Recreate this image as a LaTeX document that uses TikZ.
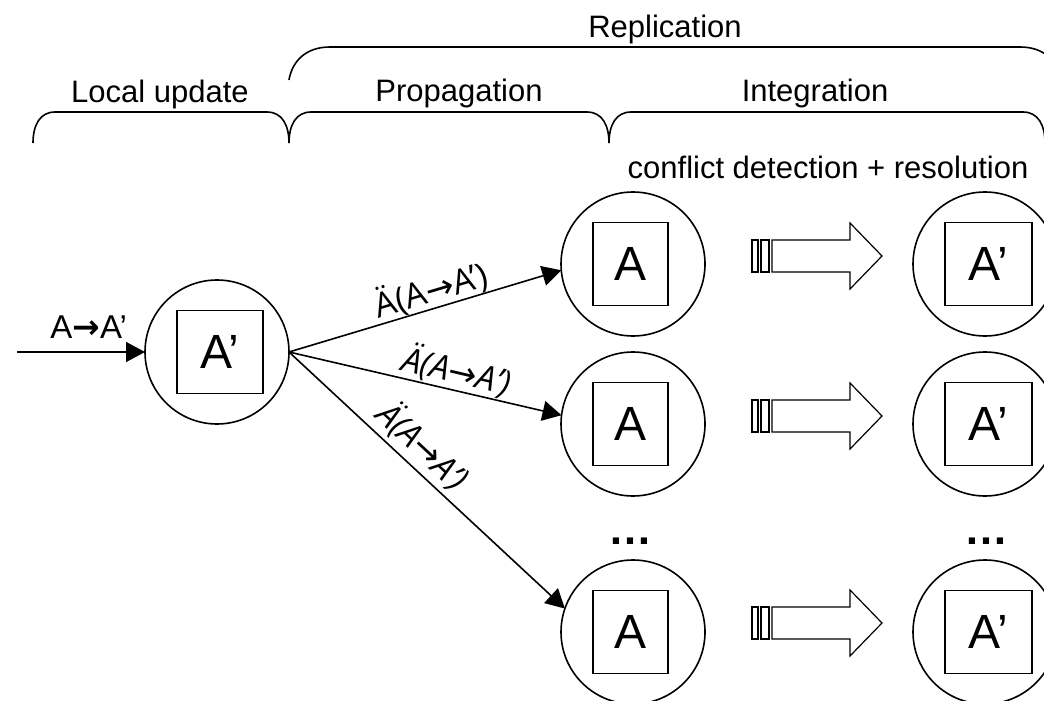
\documentclass[tikz,border=0pt]{standalone}
\usepackage{fontspec}
\setmainfont{Liberation Sans}
\newfontfamily\lblfont{Open Sans}
\newfontfamily\arrfont{DejaVu Sans}
\usetikzlibrary{arrows.meta}
\tikzset{
  ln/.style={line width=1.6pt, black},
  brace/.style={line width=1.6pt, line join=round},
  head/.style={anchor=base, font=\fontsize{31}{36}\selectfont, inner sep=0pt},
  site/.style={circle, draw, line width=1.6pt, minimum size=144pt, inner sep=0pt, outer sep=0pt},
  obj/.style={rectangle, draw, line width=1.4pt, minimum height=83pt, inner sep=0pt, outer sep=0pt, font=\fontsize{48}{56}\selectfont},
  edge/.style={ln, -{Triangle[length=19pt,width=20pt]}},
  elbl/.style={font=\lblfont\fontsize{34}{38}\selectfont, inner sep=0pt},
  dots/.style={anchor=base, font=\bfseries\fontsize{44}{50}\selectfont, inner sep=0pt},
  blockarrow/.pic={
    \draw[line width=1.2pt, line join=miter] (-48,-16) rectangle (-42,16);
    \draw[line width=1.2pt, line join=miter] (-39,-16) rectangle (-31,16);
    \draw[line width=1.2pt, line join=miter] (-28,16) -- (50,16) -- (50,33) -- (82,0) -- (50,-33) -- (50,-16) -- (-28,-16) -- cycle;
  }
}
\begin{document}
\begin{tikzpicture}[x=1pt,y=1pt]
\useasboundingbox (0,0) rectangle (1044,-701);
% braces
\draw[brace] (33,-143) .. controls (33,-125) and (40,-112) .. (55,-112) -- (267,-112) .. controls (282,-112) and (289,-125) .. (289,-143);
\draw[brace] (289,-143) .. controls (289,-125) and (296,-112) .. (311,-112) -- (587,-112) .. controls (602,-112) and (609,-125) .. (609,-143);
\draw[brace] (609,-143) .. controls (609,-125) and (616,-112) .. (631,-112) -- (1023,-112) .. controls (1038,-112) and (1045,-125) .. (1045,-143);
\draw[brace] (289,-80) .. controls (292,-62) and (305,-47) .. (330,-47) -- (1020,-47) .. controls (1045,-47) and (1058,-62) .. (1061,-80);
% headings
\node[head] (hrep) at (665,-38) {Replication};
\node[head] (hloc) at (160,-102) {Local update};
\node[head] (hprop) at (459,-101) {Propagation};
\node[head] (hint) at (815,-101) {Integration};
\node[head] (hconf) at (828,-178) {conflict detection + resolution};
% source
\node[site] (src) at (217,-352) {};
\node[obj, minimum width=86pt] (srcobj) at (220,-352) {A’};
\coordinate (in) at (17,-352);
\draw[edge] (in) -- node[above, pos=0.56, inner sep=0pt, yshift=13pt, font=\fontsize{33}{37}\selectfont] (inlbl) {A{\arrfont\bfseries →}A’} (src.west);
% targets column A
\node[site] (t1) at (633,-264) {};
\node[obj, minimum width=75pt] (t1obj) at (630.5,-264) {A};
\node[site] (t2) at (633,-424) {};
\node[obj, minimum width=75pt] (t2obj) at (630.5,-424) {A};
\node[site] (t3) at (633,-632) {};
\node[obj, minimum width=75pt] (t3obj) at (630.5,-632) {A};
% integrated column
\node[site] (r1) at (985,-264) {};
\node[obj, minimum width=87pt] (r1obj) at (988.5,-264) {A’};
\node[site] (r2) at (985,-424) {};
\node[obj, minimum width=87pt] (r2obj) at (988.5,-424) {A’};
\node[site] (r3) at (985,-632) {};
\node[obj, minimum width=87pt] (r3obj) at (988.5,-632) {A’};
% dots
\node[dots] (d1) at (630,-544) {…};
\node[dots] (d2) at (986,-544) {…};
% propagation edges
\draw[edge] (src.east) -- node[elbl, sloped, above, pos=0.54] (l1) {Ä(A{\arrfont →}A’)} (t1.185);
\draw[edge] (src.east) -- node[elbl, sloped, above=1pt, pos=0.6] (l2) {\itshape Ä(A{\arrfont →}A’)} (t2.173);
\draw[edge] (src.east) -- node[elbl, sloped, above=4pt, pos=0.43] (l3) {\itshape Ä(A{\arrfont →}A’)} (t3.161);
% block arrows
\pic at (800,-256) {blockarrow};
\pic at (800,-416) {blockarrow};
\pic at (800,-623) {blockarrow};
\end{tikzpicture}
\end{document}
